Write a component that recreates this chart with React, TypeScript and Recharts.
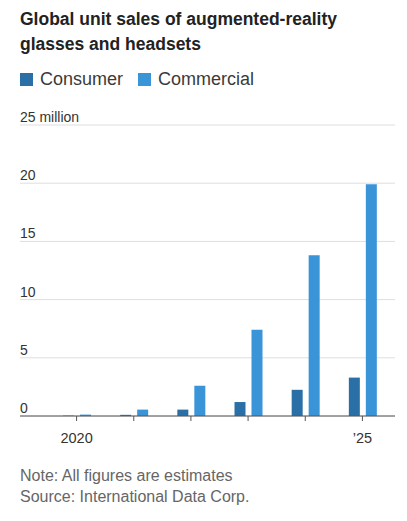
import { BarChart, Bar, XAxis, YAxis, CartesianGrid } from 'recharts'

const years = ['2020', '2021', '2022', '2023', '2024', '2025']
const yearLabels = ['2020', '', '', '', '', '\u201925']
const consumer = [0.03, 0.1, 0.55, 1.2, 2.25, 3.3]
const commercial = [0.12, 0.55, 2.6, 7.4, 13.8, 19.9]
const yTicks = [0, 5, 10, 15, 20, 25]

const data = years.map((year, i) => ({
    year,
    consumer: consumer[i],
    commercial: commercial[i]
}))

const FONT = '"Liberation Sans", Arial, sans-serif'
const CONSUMER_COLOR = '#2a70a6'
const COMMERCIAL_COLOR = '#3a94d8'

function YTick({ y, payload }: any) {
    const text = payload.value === 25 ? '25 million' : String(payload.value)
    return (
        <text x={20} y={y - 3} fill="#333" fontSize={14} fontFamily={FONT} textAnchor="start">
            {text}
        </text>
    )
}

function XTick({ x, y, payload, index }: any) {
    return (
        <text x={x} y={y + 20} fill="#333" fontSize={14.5} fontFamily={FONT} textAnchor="middle">
            {yearLabels[index] ?? payload.value}
        </text>
    )
}

function LegendItem({ color, label }: { color: string; label: string }) {
    return (
        <span style={{ display: 'inline-flex', alignItems: 'center', marginRight: 15 }}>
            <span style={{ width: 13, height: 13, background: color, display: 'inline-block', marginRight: 7 }} />
            <span>{label}</span>
        </span>
    )
}

export default function App() {
    return (
        <div style={{ position: 'absolute', left: 0, top: 0, width: 407, height: 521, background: '#fff', fontFamily: FONT }}>
            <div style={{ position: 'absolute', left: 20, top: 7, fontSize: 17.5, fontWeight: 700, lineHeight: '25px', color: '#222', width: 380 }}>
                Global unit sales of augmented-reality
                <br />
                glasses and headsets
            </div>
            <div style={{ position: 'absolute', left: 20, top: 68, fontSize: 18, lineHeight: '22px', color: '#3a3a3a', display: 'flex' }}>
                <LegendItem color={CONSUMER_COLOR} label="Consumer" />
                <LegendItem color={COMMERCIAL_COLOR} label="Commercial" />
            </div>
            <div style={{ position: 'absolute', left: 0, top: 0 }}>
                <BarChart
                    width={407}
                    height={521}
                    data={data}
                    margin={{ top: 125, right: 12, left: 19, bottom: 0 }}
                    barSize={11}
                    barGap={6}
                >
                    <CartesianGrid vertical={false} stroke="#dedede" />
                    <XAxis
                        dataKey="year"
                        height={105}
                        padding={{ left: 28, right: 4 }}
                        axisLine={{ stroke: '#555' }}
                        tickLine={{ stroke: '#555' }}
                        tickSize={5}
                        tick={<XTick />}
                        interval={0}
                    />
                    <YAxis
                        width={1}
                        domain={[0, 25]}
                        ticks={yTicks}
                        axisLine={false}
                        tickLine={false}
                        tick={<YTick />}
                        interval={0}
                    />
                    <Bar dataKey="consumer" fill={CONSUMER_COLOR} isAnimationActive={false} />
                    <Bar dataKey="commercial" fill={COMMERCIAL_COLOR} isAnimationActive={false} />
                </BarChart>
            </div>
            <div style={{ position: 'absolute', left: 20, top: 465, fontSize: 16, lineHeight: '21px', color: '#666' }}>
                Note: All figures are estimates
                <br />
                Source: International Data Corp.
            </div>
        </div>
    )
}
